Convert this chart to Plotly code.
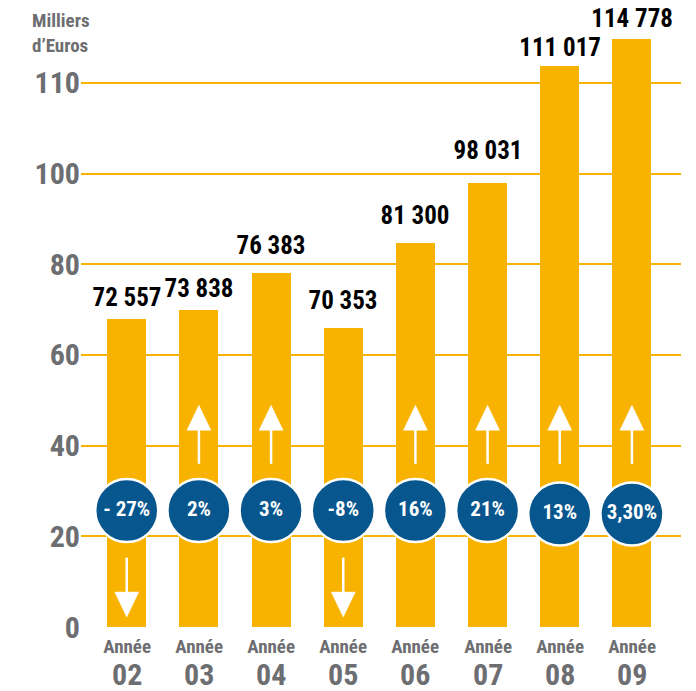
import plotly.graph_objects as go

# données
annees = ["02", "03", "04", "05", "06", "07", "08", "09"]
chiffre_affaires = [72557, 73838, 76383, 70353, 81300, 98031, 111017, 114778]
hauteur_barres = [67.9, 69.9, 78.1, 66.0, 84.6, 98.0, 123.8, 129.7]
variations = ["- 27%", "2%", "3%", "-8%", "16%", "21%", "13%", "3,30%"]
sens = [-1, 1, 1, -1, 1, 1, 1, 1]
y_ticks = [0, 20, 40, 60, 80, 100, 120]
y_ticktext = ["0", "20", "40", "60", "80", "100", "110"]

# écart (px) entre le haut des barres et leur étiquette
decalage = [5, 5, 11, 11, 11, 16, 2, 4]

ORANGE = "#F8B300"
BLEU = "#07568E"
GRIS = "#6D6E71"
POLICE = "Roboto"


def police(size, color):
    return dict(family=POLICE, size=size, color=color, weight="bold")


x = list(range(len(annees)))

fig = go.Figure()

fig.add_trace(go.Bar(
    x=x, y=hauteur_barres,
    width=0.54,
    marker=dict(color=ORANGE, line=dict(width=0)),
    hoverinfo="skip",
    showlegend=False,
))

# flèches : tige + tête triangulaire
tiges_x, tiges_y, tetes_x, tetes_y = [], [], [], []
demi = 0.166
for i, s in zip(x, sens):
    if s > 0:
        tiges_x += [i, i, None]
        tiges_y += [36.0, 43.6, None]
        tetes_x += [i - demi, i + demi, i, i - demi, None]
        tetes_y += [43.4, 43.4, 48.9, 43.4, None]
    else:
        tiges_x += [i, i, None]
        tiges_y += [15.3, 7.5, None]
        tetes_x += [i - demi, i + demi, i, i - demi, None]
        tetes_y += [7.7, 7.7, 2.2, 7.7, None]

fig.add_trace(go.Scatter(
    x=tiges_x, y=tiges_y, mode="lines",
    line=dict(color="white", width=2.5),
    hoverinfo="skip", showlegend=False,
))
fig.add_trace(go.Scatter(
    x=tetes_x, y=tetes_y, mode="lines", fill="toself",
    fillcolor="white", line=dict(color="white", width=0.5),
    hoverinfo="skip", showlegend=False,
))

# pastilles de variation
fig.add_trace(go.Scatter(
    x=x, y=[25.7] * 6 + [24.9] * 2,
    mode="markers+text",
    marker=dict(size=63, color=BLEU, line=dict(color="white", width=2.5)),
    text=variations,
    textposition="middle center",
    textfont=police(21, "white"),
    hoverinfo="skip", showlegend=False,
))

# étiquettes des valeurs
for i, v in zip(x, chiffre_affaires):
    fig.add_annotation(
        x=i, y=hauteur_barres[i], yanchor="bottom", yshift=decalage[i],
        text=f"{v:,}".replace(",", " "), showarrow=False,
        font=police(25, "black"),
    )

# libellés des années
for i, a in zip(x, annees):
    fig.add_annotation(
        x=i, y=0, yref="paper", yanchor="middle", yshift=-19,
        text="Année", showarrow=False,
        font=police(19, GRIS),
    )
    fig.add_annotation(
        x=i, y=0, yref="paper", yanchor="middle", yshift=-47,
        text=a, showarrow=False,
        font=police(30, GRIS),
    )

fig.add_annotation(
    x=-0.085, xref="paper", xanchor="left",
    y=1, yref="paper", yanchor="top", yshift=3,
    text="Milliers<br>d’Euros", align="left", showarrow=False,
    font=police(19, GRIS),
)

fig.update_xaxes(
    range=[-0.634, 7.68], showticklabels=False, showgrid=False,
    zeroline=False, showline=False, ticks="",
)
fig.update_yaxes(
    range=[0, 136.1], tickvals=y_ticks, ticktext=y_ticktext,
    showgrid=True, gridcolor=ORANGE, gridwidth=2,
    zeroline=False, showline=False, ticks="",
    tickfont=police(30, GRIS),
)

fig.update_layout(
    width=696, height=691,
    margin=dict(l=81, r=15, t=10, b=64),
    paper_bgcolor="white", plot_bgcolor="white",
    bargap=0,
)

css = (
    "document.body.style.margin='0';"
    "var s=document.createElement('style');"
    "s.textContent='svg text{font-stretch:condensed !important;}';"
    "document.head.appendChild(s);"
)
fig.write_html("out.html", post_script=css, config={"displayModeBar": False})
